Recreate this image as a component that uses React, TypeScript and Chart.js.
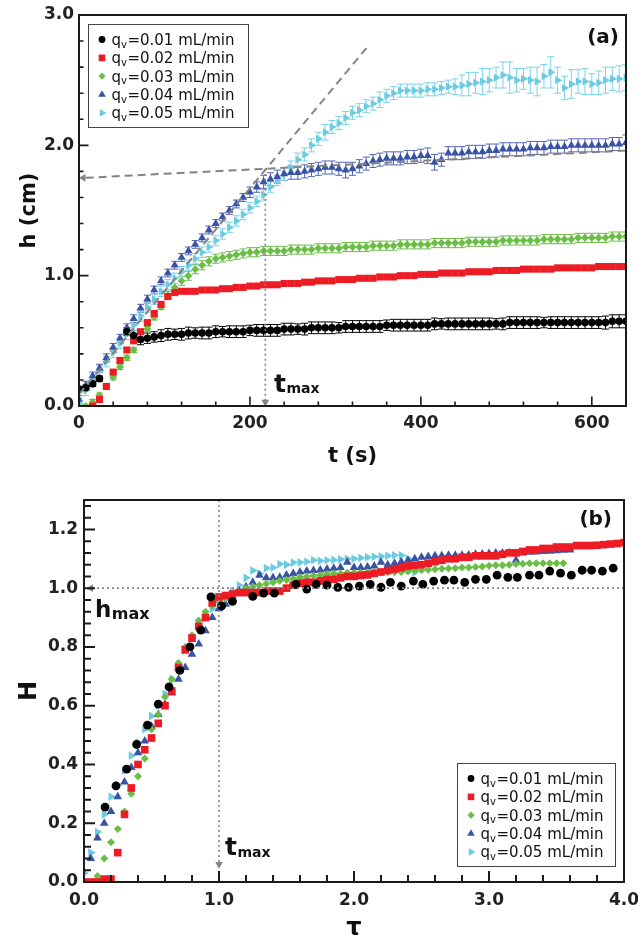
import { useEffect, useRef } from 'react';
import { Chart, registerables } from 'chart.js';
import { drawPoint } from 'chart.js/helpers';

Chart.register(...registerables);
Chart.defaults.font.family = "'DejaVu Sans', sans-serif";

// series labels / colours (same order in both panels)
const QV = ['0.01', '0.02', '0.03', '0.04', '0.05'];
const COLORS = ['#000000', '#ed1c24', '#6abd45', '#3953a4', '#6bcbe0'];
const ERR_COLORS = ['#000000', '#ed1c24', '#6abd45', '#5566b3', '#7ad3e6'];
const MARKERS = [
  { style: 'circle', rot: 0 },
  { style: 'rect', rot: 0 },
  { style: 'rectRot', rot: 0 },
  { style: 'triangle', rot: 0 },
  { style: 'triangle', rot: 90 },
];
const GUIDE = '#848484';

// ---------- panel (a): h (cm) vs t (s) ----------
const A_X_TICKS = [0, 200, 400, 600];
const A_Y_TICKS = [0, 1, 2, 3];

const T_A = [
  0, 8, 16, 24, 32, 40, 48, 56, 64, 72,
  80, 88, 96, 104, 112, 120, 128, 136, 144, 152,
  160, 168, 176, 184, 192, 200, 208, 216, 224, 232,
  240, 248, 256, 264, 272, 280, 288, 296, 304, 312,
  320, 328, 336, 344, 352, 360, 368, 376, 384, 392,
  400, 408, 416, 424, 432, 440, 448, 456, 464, 472,
  480, 488, 496, 504, 512, 520, 528, 536, 544, 552,
  560, 568, 576, 584, 592, 600, 608, 616, 624, 632,
  640,
];

const H_A_001 = [
  0.13, 0.14, 0.17, 0.21, null, null, null, 0.57, 0.54, 0.51,
  0.52, 0.53, 0.54, 0.55, 0.55, 0.55, 0.56, 0.56, 0.56, 0.56,
  0.57, 0.57, 0.57, 0.57, 0.57, 0.58, 0.58, 0.58, 0.58, 0.58,
  0.59, 0.59, 0.59, 0.59, 0.60, 0.60, 0.60, 0.60, 0.60, 0.61,
  0.61, 0.61, 0.61, 0.61, 0.61, 0.62, 0.62, 0.62, 0.62, 0.62,
  0.62, 0.62, 0.63, 0.63, 0.63, 0.63, 0.63, 0.63, 0.63, 0.63,
  0.63, 0.63, 0.63, 0.64, 0.64, 0.64, 0.64, 0.64, 0.64, 0.64,
  0.64, 0.64, 0.64, 0.64, 0.64, 0.64, 0.64, 0.64, 0.65, 0.65,
  0.65,
];
const E_A_001 = [
  0.02, 0.02, 0.02, 0.02, 0, 0, 0, 0.03, 0.04, 0.04,
  0.04, 0.04, 0.045, 0.045, 0.04, 0.045, 0.045, 0.04, 0.045, 0.045,
  0.045, 0.04, 0.045, 0.045, 0.045, 0.04, 0.045, 0.045, 0.045, 0.045,
  0.045, 0.045, 0.04, 0.045, 0.045, 0.045, 0.045, 0.045, 0.04, 0.045,
  0.045, 0.045, 0.045, 0.045, 0.045, 0.04, 0.045, 0.045, 0.045, 0.045,
  0.045, 0.045, 0.045, 0.04, 0.045, 0.045, 0.045, 0.045, 0.045, 0.045,
  0.045, 0.04, 0.045, 0.045, 0.045, 0.045, 0.045, 0.045, 0.04, 0.045,
  0.045, 0.045, 0.045, 0.045, 0.045, 0.045, 0.045, 0.05, 0.05, 0.05,
  0.05,
];

const H_A_002 = [
  null, null, 0.00, 0.05, 0.15, 0.26, 0.35, 0.43, 0.50, 0.57,
  0.64, 0.71, 0.78, 0.84, 0.87, 0.88, 0.88, 0.88, 0.89, 0.89,
  0.89, 0.90, 0.90, 0.91, 0.91, 0.92, 0.92, 0.93, 0.93, 0.93,
  0.94, 0.94, 0.94, 0.95, 0.95, 0.96, 0.96, 0.96, 0.97, 0.97,
  0.97, 0.98, 0.98, 0.98, 0.99, 0.99, 0.99, 1.00, 1.00, 1.00,
  1.01, 1.01, 1.01, 1.02, 1.02, 1.02, 1.02, 1.03, 1.03, 1.03,
  1.03, 1.04, 1.04, 1.04, 1.04, 1.05, 1.05, 1.05, 1.05, 1.05,
  1.06, 1.06, 1.06, 1.06, 1.06, 1.06, 1.07, 1.07, 1.07, 1.07,
  1.07,
];
const E_A_002 = [
  0, 0, 0.01, 0.01, 0.015, 0.015, 0.015, 0.015, 0.015, 0.015,
  0.015, 0.015, 0.015, 0.015, 0.015, 0.015, 0.015, 0.015, 0.015, 0.015,
  0.015, 0.015, 0.015, 0.015, 0.015, 0.015, 0.015, 0.015, 0.015, 0.015,
  0.015, 0.015, 0.015, 0.015, 0.015, 0.015, 0.015, 0.015, 0.015, 0.015,
  0.015, 0.015, 0.015, 0.015, 0.015, 0.015, 0.015, 0.015, 0.015, 0.015,
  0.015, 0.015, 0.015, 0.015, 0.015, 0.015, 0.015, 0.015, 0.015, 0.015,
  0.015, 0.015, 0.015, 0.015, 0.015, 0.015, 0.015, 0.015, 0.015, 0.015,
  0.015, 0.015, 0.015, 0.015, 0.015, 0.015, 0.015, 0.015, 0.015, 0.015,
  0.015,
];

const H_A_003 = [
  null, 0.00, 0.03, 0.08, 0.15, 0.22, 0.30, 0.37, 0.43, 0.51,
  0.59, 0.68, 0.76, 0.85, 0.91, 0.96, 1.00, 1.05, 1.08, 1.11,
  1.13, 1.14, 1.15, 1.16, 1.17, 1.18, 1.18, 1.19, 1.19, 1.19,
  1.19, 1.20, 1.20, 1.20, 1.20, 1.21, 1.21, 1.21, 1.21, 1.22,
  1.22, 1.22, 1.22, 1.23, 1.23, 1.23, 1.23, 1.24, 1.24, 1.24,
  1.24, 1.24, 1.25, 1.25, 1.25, 1.25, 1.25, 1.26, 1.26, 1.26,
  1.26, 1.26, 1.27, 1.27, 1.27, 1.27, 1.27, 1.27, 1.28, 1.28,
  1.28, 1.28, 1.28, 1.29, 1.29, 1.29, 1.29, 1.29, 1.30, 1.30,
  1.30,
];
const E_A_003 = [
  0, 0.01, 0.02, 0.02, 0.02, 0.02, 0.02, 0.02, 0.02, 0.02,
  0.02, 0.02, 0.02, 0.03, 0.03, 0.035, 0.035, 0.035, 0.035, 0.035,
  0.035, 0.035, 0.035, 0.035, 0.035, 0.035, 0.035, 0.035, 0.035, 0.035,
  0.035, 0.035, 0.035, 0.035, 0.035, 0.035, 0.035, 0.035, 0.035, 0.035,
  0.035, 0.035, 0.035, 0.035, 0.035, 0.035, 0.035, 0.035, 0.035, 0.035,
  0.035, 0.035, 0.035, 0.035, 0.035, 0.035, 0.035, 0.035, 0.035, 0.035,
  0.035, 0.035, 0.035, 0.035, 0.035, 0.035, 0.035, 0.035, 0.035, 0.035,
  0.035, 0.035, 0.035, 0.035, 0.035, 0.035, 0.035, 0.035, 0.035, 0.035,
  0.035,
];

const H_A_004 = [
  0.05, 0.16, 0.23, 0.29, 0.37, 0.45, 0.52, 0.60, 0.67, 0.75,
  0.82, 0.89, 0.96, 1.02, 1.08, 1.14, 1.19, 1.24, 1.29, 1.35,
  1.40, 1.45, 1.50, 1.55, 1.60, 1.64, 1.68, 1.72, 1.74, 1.76,
  1.78, 1.79, 1.79, 1.80, 1.81, 1.82, 1.83, 1.83, 1.82, 1.81,
  1.82, 1.84, 1.86, 1.88, 1.89, 1.90, 1.90, 1.90, 1.91, 1.91,
  1.92, 1.92, 1.87, 1.89, 1.94, 1.94, 1.94, 1.95, 1.95, 1.95,
  1.96, 1.96, 1.97, 1.97, 1.97, 1.97, 1.98, 1.98, 1.98, 1.99,
  1.99, 1.99, 2.00, 2.00, 2.00, 2.00, 2.00, 2.00, 2.01, 2.01,
  2.02,
];
const E_A_004 = [
  0.03, 0.03, 0.03, 0.03, 0.03, 0.03, 0.03, 0.03, 0.03, 0.03,
  0.03, 0.03, 0.03, 0.03, 0.03, 0.03, 0.03, 0.03, 0.03, 0.03,
  0.03, 0.03, 0.03, 0.03, 0.03, 0.04, 0.04, 0.05, 0.05, 0.05,
  0.05, 0.05, 0.05, 0.05, 0.05, 0.05, 0.05, 0.05, 0.05, 0.06,
  0.05, 0.05, 0.05, 0.05, 0.05, 0.05, 0.05, 0.05, 0.05, 0.05,
  0.05, 0.06, 0.06, 0.05, 0.05, 0.05, 0.05, 0.05, 0.05, 0.05,
  0.05, 0.05, 0.05, 0.05, 0.05, 0.05, 0.05, 0.05, 0.05, 0.05,
  0.05, 0.05, 0.05, 0.05, 0.05, 0.05, 0.05, 0.05, 0.05, 0.05,
  0.06,
];

const H_A_005 = [
  0.02, 0.12, 0.20, 0.27, 0.34, 0.41, 0.48, 0.55, 0.62, 0.69,
  0.76, 0.82, 0.88, 0.93, 0.98, 1.03, 1.08, 1.13, 1.18, 1.22,
  1.27, 1.32, 1.37, 1.42, 1.47, 1.52, 1.57, 1.62, 1.68, 1.73,
  1.78, 1.83, 1.89, 1.93, 2.00, 2.05, 2.10, 2.14, 2.17, 2.21,
  2.25, 2.27, 2.30, 2.32, 2.35, 2.38, 2.40, 2.42, 2.42, 2.42,
  2.42, 2.43, 2.43, 2.44, 2.45, 2.45, 2.46, 2.47, 2.48, 2.49,
  2.50, 2.52, 2.54, 2.52, 2.50, 2.51, 2.50, 2.49, 2.53, 2.56,
  2.50, 2.44, 2.47, 2.49, 2.49, 2.47, 2.48, 2.50, 2.51, 2.51,
  2.52,
];
const E_A_005 = [
  0.04, 0.04, 0.04, 0.04, 0.04, 0.04, 0.04, 0.04, 0.04, 0.04,
  0.04, 0.04, 0.04, 0.04, 0.04, 0.04, 0.04, 0.04, 0.04, 0.04,
  0.04, 0.04, 0.04, 0.04, 0.04, 0.04, 0.04, 0.04, 0.04, 0.04,
  0.05, 0.05, 0.05, 0.05, 0.05, 0.05, 0.06, 0.05, 0.05, 0.05,
  0.05, 0.05, 0.05, 0.05, 0.06, 0.05, 0.05, 0.05, 0.05, 0.05,
  0.05, 0.05, 0.05, 0.05, 0.05, 0.06, 0.08, 0.09, 0.08, 0.10,
  0.09, 0.08, 0.10, 0.12, 0.09, 0.08, 0.10, 0.11, 0.09, 0.12,
  0.10, 0.09, 0.11, 0.09, 0.10, 0.08, 0.09, 0.10, 0.09, 0.10,
  0.10,
];

// guide lines of panel (a): [t, h]
const A_SLOPE = [[0, 0.09], [338, 2.76]];
const A_PLATEAU = [[640, 1.96], [5, 1.75]];
const A_TMAX = [[218, 1.82], [218, 0.03]];

// ---------- panel (b): H vs tau ----------
const B_X_TICKS = [0, 1, 2, 3, 4];
const B_Y_TICKS = [0, 0.2, 0.4, 0.6, 0.8, 1.0, 1.2];

const TAU_B = [
  0, 0.05, 0.1, 0.15, 0.2, 0.25, 0.3, 0.35, 0.4, 0.45,
  0.5, 0.55, 0.6, 0.65, 0.7, 0.75, 0.8, 0.85, 0.9, 0.95,
  1, 1.05, 1.1, 1.15, 1.2, 1.25, 1.3, 1.35, 1.4, 1.45,
  1.5, 1.55, 1.6, 1.65, 1.7, 1.75, 1.8, 1.85, 1.9, 1.95,
  2, 2.05, 2.1, 2.15, 2.2, 2.25, 2.3, 2.35, 2.4, 2.45,
  2.5, 2.55, 2.6, 2.65, 2.7, 2.75, 2.8, 2.85, 2.9, 2.95,
  3, 3.05, 3.1, 3.15, 3.2, 3.25, 3.3, 3.35, 3.4, 3.45,
  3.5, 3.55, 3.6, 3.65, 3.7, 3.75, 3.8, 3.85, 3.9, 3.95,
  4,
];

const TAU_B_001 = [
  0.156, 0.237, 0.316, 0.39, 0.47, 0.55, 0.63, 0.71, 0.785, 0.865,
  0.94, 1.02, 1.10, 1.25, 1.33, 1.41, 1.57, 1.65, 1.72, 1.80,
  1.88, 1.96, 2.04, 2.12, 2.20, 2.27, 2.35, 2.44, 2.51, 2.59,
  2.67, 2.74, 2.82, 2.90, 2.98, 3.06, 3.14, 3.21, 3.30, 3.37,
  3.45, 3.53, 3.61, 3.69, 3.76, 3.84, 3.92,
];
const H_B_001 = [
  0.255, 0.327, 0.384, 0.468, 0.534, 0.605, 0.664, 0.72, 0.80, 0.857,
  0.97, 0.94, 0.955, 0.972, 0.983, 0.983, 1.013, 0.997, 1.013, 1.01,
  1.003, 1.003, 1.007, 1.013, 1.003, 1.02, 1.007, 1.024, 1.013, 1.024,
  1.027, 1.027, 1.02, 1.03, 1.03, 1.044, 1.037, 1.037, 1.044, 1.044,
  1.058, 1.051, 1.044, 1.061, 1.061, 1.058, 1.068,
];

const H_B_002 = [
  0.00, 0.00, 0.00, 0.01, 0.01, 0.10, 0.23, 0.32, 0.40, 0.45,
  0.49, 0.54, 0.60, 0.65, 0.73, 0.79, 0.83, 0.87, 0.90, 0.95,
  0.97, 0.975, 0.98, 0.985, 0.985, 0.985, 0.985, 0.99, 0.99, 0.99,
  1.00, 1.01, 1.017, 1.02, 1.02, 1.025, 1.03, 1.03, 1.035, 1.04,
  1.04, 1.043, 1.045, 1.05, 1.055, 1.06, 1.065, 1.07, 1.075, 1.078,
  1.08, 1.085, 1.09, 1.095, 1.10, 1.10, 1.105, 1.105, 1.11, 1.11,
  1.11, 1.11, 1.115, 1.12, 1.12, 1.125, 1.13, 1.13, 1.135, 1.135,
  1.14, 1.14, 1.14, 1.145, 1.145, 1.145, 1.146, 1.148, 1.15, 1.152,
  1.155,
];

const H_B_003 = [
  null, null, 0.02, 0.08, 0.135, 0.18, 0.24, 0.30, 0.36, 0.42,
  0.52, 0.57, 0.63, 0.69, 0.745, 0.80, 0.84, 0.89, 0.92, 0.94,
  0.955, 0.965, 0.975, 0.985, 1.00, 1.005, 1.01, 1.015, 1.02, 1.025,
  1.028, 1.032, 1.037, 1.04, 1.042, 1.045, 1.048, 1.05, 1.05, 1.052,
  1.052, 1.053, 1.054, 1.054, 1.054, 1.054, 1.054, 1.055, 1.057, 1.06,
  1.062, 1.063, 1.064, 1.066, 1.067, 1.068, 1.07, 1.07, 1.072, 1.074,
  1.076, 1.078, 1.078, 1.08, 1.082, 1.083, 1.085, 1.085, 1.085, 1.085,
  1.085, 1.085, null, null, null, null, null, null, null, null,
  null,
];

const H_B_004 = [
  0.00, 0.08, 0.15, 0.20, 0.24, 0.29, 0.34, 0.39, 0.44, 0.48,
  0.53, 0.57, 0.605, 0.643, 0.69, 0.73, 0.775, 0.81, 0.855, 0.90,
  0.93, 0.945, 0.965, 0.99, 1.005, 1.02, 1.044, 1.035, 1.035, 1.037,
  1.045, 1.05, 1.055, 1.058, 1.06, 1.062, 1.065, 1.068, 1.07, 1.088,
  1.07, 1.07, 1.072, 1.075, 1.088, 1.08, 1.085, 1.09, 1.095, 1.10,
  1.105, 1.108, 1.11, 1.11, 1.112, 1.112, 1.112, 1.113, 1.115, 1.116,
  1.118, 1.12, 1.12, 1.12, 1.095, 1.12, 1.122, 1.123, 1.125, 1.126,
  1.127, 1.129, 1.13, null, null, null, null, null, null, null,
  null,
];

const H_B_005 = [
  0.03, 0.10, 0.17, 0.23, 0.29, 0.33, 0.38, 0.43, 0.475, 0.52,
  0.565, 0.60, 0.64, 0.69, 0.74, 0.79, 0.83, 0.87, 0.90, 0.93,
  0.95, 0.97, 0.99, 1.01, 1.035, 1.06, 1.05, 1.068, 1.07, 1.082,
  1.08, 1.087, 1.088, 1.09, 1.095, 1.093, 1.095, 1.096, 1.098, 1.10,
  1.10, 1.103, 1.105, 1.107, 1.108, 1.11, 1.112, 1.112, 1.10, 1.054,
  null, null, null, null, null, null, null, null, null, null,
  null, null, null, null, null, null, null, null, null, null,
  null, null, null, null, null, null, null, null, null, null,
  null,
];

// guide lines of panel (b): [tau, H]
const B_HMAX = [[4, 1.0], [0.05, 1.0]];
const B_TMAX = [[1, 1.3], [1, 0.06]];

// ---------- helpers ----------
const points = (xs: number[], ys: (number | null)[], es?: number[]) => {
  const out: { x: number; y: number; e: number }[] = [];
  xs.forEach((x, k) => {
    const y = ys[k];
    if (y == null) return;
    out.push({ x, y, e: es ? es[k] : 0 });
  });
  return out;
};

const markerSet = (i: number, data: any[], radius: number, withErr: boolean) => ({
  data,
  showLine: false,
  pointStyle: MARKERS[i].style,
  pointRotation: MARKERS[i].rot,
  pointRadius: radius,
  pointHoverRadius: radius,
  pointBackgroundColor: COLORS[i],
  pointBorderWidth: 0,
  errColor: withErr ? ERR_COLORS[i] : null,
});

const guideLine = (pts: number[][], dash: number[], width: number) => ({
  data: pts.map(([x, y]) => ({ x, y })),
  showLine: true,
  borderColor: GUIDE,
  borderWidth: width,
  borderDash: dash,
  pointRadius: 0,
});

const arrowHead = ([x, y]: number[], rot: number) => ({
  data: [{ x, y }],
  showLine: false,
  pointStyle: 'triangle',
  pointRotation: rot,
  pointRadius: 4.5,
  pointBackgroundColor: GUIDE,
  pointBorderWidth: 0,
});

const axis = (o: any) => ({
  type: 'linear',
  min: o.min,
  max: o.max,
  grid: { display: false, drawTicks: false },
  border: { display: false },
  ticks: {
    autoSkip: false,
    maxRotation: 0,
    padding: o.labelPad,
    color: '#222',
    font: { size: 17, weight: 'bold' },
    callback: (v: any) => o.fmt(Number(v)),
  },
  title: {
    display: true,
    text: o.title,
    color: '#111',
    font: { size: o.titleSize, weight: 'bold', lineHeight: 1 },
    padding: o.titlePad,
  },
  afterBuildTicks: (s: any) => {
    s.ticks = o.ticks.map((value: number) => ({ value }));
  },
  afterFit: (s: any) => {
    if (o.horizontal) s.height = o.size;
    else s.width = o.size;
    s.paddingLeft = 0;
    s.paddingRight = 0;
    s.paddingTop = 0;
    s.paddingBottom = 0;
  },
});

const onStep = (v: number, step: number) => Math.abs(v / step - Math.round(v / step)) < 1e-6;

// inward ticks on left/bottom + full frame
const frameTicks = (cfg: any) => ({
  id: 'frameTicks',
  afterDatasetsDraw(chart: any) {
    const { ctx, chartArea: a } = chart;
    const sx = chart.scales.x;
    const sy = chart.scales.y;
    ctx.save();
    ctx.strokeStyle = '#1a1a1a';
    ctx.lineWidth = cfg.tickWidth;
    ctx.beginPath();
    const nx = Math.floor((sx.max - sx.min) / cfg.xMinor + 1e-6);
    for (let k = 0; k <= nx; k++) {
      const v = sx.min + k * cfg.xMinor;
      const len = onStep(v, cfg.xMajor) ? cfg.major : cfg.minor;
      const px = sx.getPixelForValue(v);
      ctx.moveTo(px, a.bottom);
      ctx.lineTo(px, a.bottom - len);
    }
    const ny = Math.floor((sy.max - sy.min) / cfg.yMinor + 1e-6);
    for (let k = 0; k <= ny; k++) {
      const v = sy.min + k * cfg.yMinor;
      const len = onStep(v, cfg.yMajor) ? cfg.major : cfg.minor;
      const py = sy.getPixelForValue(v);
      ctx.moveTo(a.left, py);
      ctx.lineTo(a.left + len, py);
    }
    ctx.stroke();
    ctx.lineWidth = 2;
    ctx.strokeRect(a.left, a.top, a.right - a.left, a.bottom - a.top);
    ctx.restore();
  },
});

// vertical error bars, drawn under the markers
const errorBars = {
  id: 'errorBars',
  beforeDatasetsDraw(chart: any) {
    const { ctx, chartArea: a } = chart;
    const sy = chart.scales.y;
    ctx.save();
    ctx.beginPath();
    ctx.rect(a.left, a.top, a.right - a.left, a.bottom - a.top);
    ctx.clip();
    ctx.lineWidth = 1;
    chart.data.datasets.forEach((ds: any, i: number) => {
      if (!ds.errColor) return;
      const meta = chart.getDatasetMeta(i);
      ctx.strokeStyle = ds.errColor;
      ctx.beginPath();
      meta.data.forEach((el: any, j: number) => {
        const p = ds.data[j];
        if (!p || !p.e) return;
        const y1 = sy.getPixelForValue(p.y + p.e);
        const y2 = sy.getPixelForValue(p.y - p.e);
        ctx.moveTo(el.x, y1);
        ctx.lineTo(el.x, y2);
        ctx.moveTo(el.x - 3.5, y1);
        ctx.lineTo(el.x + 3.5, y1);
        ctx.moveTo(el.x - 3.5, y2);
        ctx.lineTo(el.x + 3.5, y2);
      });
      ctx.stroke();
    });
    ctx.restore();
  },
};

const subText = (ctx: any, x: number, y: number, main: string, sub: string, mainFont: string, subFont: string, subDy: number) => {
  ctx.font = mainFont;
  ctx.fillText(main, x, y);
  const w = ctx.measureText(main).width;
  ctx.font = subFont;
  ctx.fillText(sub, x + w + 0.5, y + subDy);
};

const drawLegend = (ctx: any, left: number, top: number, w: number, h: number, radii: number[]) => {
  ctx.save();
  ctx.fillStyle = '#ffffff';
  ctx.fillRect(left, top, w, h);
  ctx.strokeStyle = '#444';
  ctx.lineWidth = 1;
  ctx.strokeRect(left + 0.5, top + 0.5, w, h);
  ctx.textAlign = 'left';
  ctx.textBaseline = 'alphabetic';
  QV.forEach((q, i) => {
    const cy = top + 15.5 + i * 18.35;
    ctx.fillStyle = COLORS[i];
    drawPoint(ctx, { pointStyle: MARKERS[i].style, rotation: MARKERS[i].rot, radius: radii[i], borderWidth: 0 } as any, left + 14, cy);
    ctx.fillStyle = '#111';
    const x0 = left + 23.5;
    ctx.font = '15px "DejaVu Sans"';
    ctx.fillText('q', x0, cy + 5.5);
    const wq = ctx.measureText('q').width;
    ctx.font = '10px "DejaVu Sans"';
    ctx.fillText('v', x0 + wq, cy + 8);
    const wv = ctx.measureText('v').width;
    ctx.font = '15px "DejaVu Sans"';
    ctx.fillText('=' + q + ' mL/min', x0 + wq + wv + 0.5, cy + 5.5);
  });
  ctx.restore();
};

const annotA = {
  id: 'annotA',
  afterDraw(chart: any) {
    const { ctx, chartArea: a } = chart;
    drawLegend(ctx, a.left + 9, a.top + 9, 160, 103, [3.4, 4.7, 3.6, 4.4, 4.4]);
    ctx.save();
    ctx.fillStyle = '#111';
    ctx.textBaseline = 'alphabetic';
    ctx.textAlign = 'right';
    ctx.font = 'bold 20px "DejaVu Sans"';
    ctx.fillText('(a)', a.right - 7, a.top + 27.5);
    ctx.textAlign = 'left';
    subText(ctx, 274, 392, 't', 'max', 'bold 25px "DejaVu Sans"', 'bold 14px "DejaVu Sans"', 1);
    ctx.restore();
  },
};

const annotB = {
  id: 'annotB',
  afterDraw(chart: any) {
    const { ctx, chartArea: a } = chart;
    drawLegend(ctx, a.right - 167, a.bottom - 119, 158, 103, [3.4, 4.7, 3.6, 4.4, 4.4]);
    ctx.save();
    ctx.fillStyle = '#111';
    ctx.textBaseline = 'alphabetic';
    ctx.textAlign = 'right';
    ctx.font = 'bold 20px "DejaVu Sans"';
    ctx.fillText('(b)', a.right - 12, a.top + 24.5);
    ctx.textAlign = 'left';
    subText(ctx, 95, 149, 'h', 'max', 'bold 23px "DejaVu Sans"', 'bold 16px "DejaVu Sans"', 2);
    subText(ctx, 225, 387, 't', 'max', 'bold 25px "DejaVu Sans"', 'bold 14px "DejaVu Sans"', 2);
    ctx.restore();
  },
};

const buildA = () => ({
  type: 'scatter',
  data: {
    datasets: [
      guideLine(A_SLOPE, [8, 5], 2),
      guideLine(A_PLATEAU, [8, 5], 2),
      arrowHead(A_PLATEAU[1], 270),
      guideLine(A_TMAX, [2, 3], 1.6),
      arrowHead(A_TMAX[1], 180),
      markerSet(0, points(T_A, H_A_001, E_A_001), 3.8, true),
      markerSet(1, points(T_A, H_A_002, E_A_002), 5, true),
      markerSet(2, points(T_A, H_A_003, E_A_003), 4, true),
      markerSet(3, points(T_A, H_A_004, E_A_004), 4.7, true),
      markerSet(4, points(T_A, H_A_005, E_A_005), 4.7, true),
    ],
  },
  options: {
    responsive: false,
    animation: false,
    events: [],
    layout: { padding: { top: 15, right: 12, left: 0, bottom: 0 } },
    plugins: { legend: { display: false }, tooltip: { enabled: false } },
    scales: {
      x: axis({ min: 0, max: 640, ticks: A_X_TICKS, fmt: (v: number) => String(v), title: 't (s)', titleSize: 21, titlePad: { top: 0, bottom: 0.5 }, labelPad: 7, size: 62, horizontal: true }),
      y: axis({ min: 0, max: 3, ticks: A_Y_TICKS, fmt: (v: number) => v.toFixed(1), title: 'h (cm)', titleSize: 21, titlePad: { top: 19, bottom: 0 }, labelPad: 5, size: 79, horizontal: false }),
    },
  },
  plugins: [errorBars, frameTicks({ xMinor: 40, xMajor: 200, yMinor: 0.2, yMajor: 1, major: 9.5, minor: 4.5, tickWidth: 1.6 }), annotA],
});

const buildB = () => ({
  type: 'scatter',
  data: {
    datasets: [
      guideLine(B_HMAX, [2, 3], 1.6),
      arrowHead(B_HMAX[1], 270),
      guideLine(B_TMAX, [2, 3], 1.6),
      arrowHead(B_TMAX[1], 180),
      markerSet(0, points(TAU_B_001, H_B_001), 4.4, false),
      markerSet(1, points(TAU_B, H_B_002), 5.4, false),
      markerSet(2, points(TAU_B, H_B_003), 4, false),
      markerSet(3, points(TAU_B, H_B_004), 5, false),
      markerSet(4, points(TAU_B, H_B_005), 5, false),
    ],
  },
  options: {
    responsive: false,
    animation: false,
    events: [],
    layout: { padding: { top: 32, right: 14, left: 0, bottom: 0 } },
    plugins: { legend: { display: false }, tooltip: { enabled: false } },
    scales: {
      x: axis({ min: 0, max: 4, ticks: B_X_TICKS, fmt: (v: number) => v.toFixed(1), title: 'τ', titleSize: 24, titlePad: { top: 0, bottom: -5 }, labelPad: 8, size: 54, horizontal: true }),
      y: axis({ min: 0, max: 1.3, ticks: B_Y_TICKS, fmt: (v: number) => v.toFixed(1), title: 'H', titleSize: 24, titlePad: { top: 18, bottom: 0 }, labelPad: 6, size: 84, horizontal: false }),
    },
  },
  plugins: [frameTicks({ xMinor: 0.2, xMajor: 1, yMinor: 0.04, yMajor: 0.2, major: 11, minor: 7, tickWidth: 2 }), annotB],
});

function ChartPanel({ build }: { build: () => any }) {
  const ref = useRef<HTMLCanvasElement>(null);
  useEffect(() => {
    const chart = new Chart(ref.current as HTMLCanvasElement, build());
    return () => chart.destroy();
  }, [build]);
  return <canvas ref={ref} width={638} height={468} style={{ display: 'block', width: 638, height: 468 }} />;
}

export default function App() {
  useEffect(() => {
    document.body.style.margin = '0';
  }, []);
  return (
    <div style={{ width: 638, background: '#ffffff' }}>
      <ChartPanel build={buildA} />
      <ChartPanel build={buildB} />
    </div>
  );
}
